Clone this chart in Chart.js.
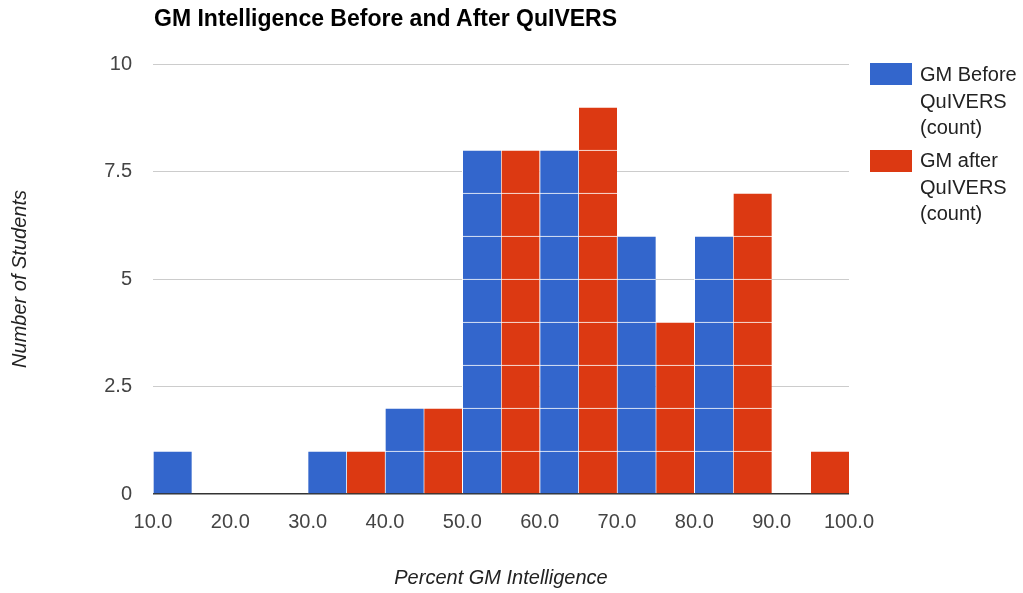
<!DOCTYPE html>
<html>
<head>
<meta charset="utf-8">
<script src="https://cdn.jsdelivr.net/npm/chart.js@4"></script>
<style>
  body { margin: 0; background: #fff; font-family: "Liberation Sans", Arial, sans-serif; }
  #wrap { position: relative; width: 1023px; height: 593px; }
  #title { position: absolute; left: 154px; top: 5px; font-size: 23px; font-weight: bold; color: #000; line-height: 1.2; }
  .lg { position: absolute; left: 870px; }
  .lg .box { position: absolute; left: 0; width: 42px; height: 22px; }
  .lg .txt { position: absolute; left: 50px; width: 160px; font-size: 20px; line-height: 26.5px; color: #222; }
</style>
</head>
<body>
<div id="wrap">
  <canvas id="histChart"></canvas>
  <div id="title">GM Intelligence Before and After QuIVERS</div>
  <div class="lg" style="top:63px"><div class="box" style="background:#3366cc"></div><div class="txt" style="top:-2px">GM Before<br>QuIVERS<br>(count)</div></div>
  <div class="lg" style="top:150px"><div class="box" style="background:#dc3912"></div><div class="txt" style="top:-3px">GM after<br>QuIVERS<br>(count)</div></div>
</div>
<script>
// bins of width 5, from 10 to 100
var binStarts = [10, 15, 20, 25, 30, 35, 40, 45, 50, 55, 60, 65, 70, 75, 80, 85, 90, 95];
var beforeCounts = [1, 0, 0, 0, 1, 0, 2, 0, 8, 0, 8, 0, 6, 0, 6, 0, 0, 0];
var afterCounts  = [0, 0, 0, 0, 0, 1, 0, 2, 0, 8, 0, 9, 0, 4, 0, 7, 0, 1];
var yTicks = [0, 2.5, 5, 7.5, 10];
var xTicks = [10, 20, 30, 40, 50, 60, 70, 80, 90, 100];

var seriesList = [
  { name: "GM Before QuIVERS (count)", counts: beforeCounts, color: "#3366cc" },
  { name: "GM after QuIVERS (count)", counts: afterCounts, color: "#dc3912" }
];

// each student is its own little box, so stack one dataset per level
var datasets = [];
seriesList.forEach(function (s) {
  var top = Math.max.apply(null, s.counts);
  for (var k = 1; k <= top; k++) {
    datasets.push({
      label: s.name,
      data: binStarts.map(function (b, i) {
        return { x: b + 2.5, y: s.counts[i] >= k ? 1 : null };
      }),
      backgroundColor: s.color,
      borderColor: "#ffffff",
      borderWidth: { top: 1, left: 1, right: 0, bottom: 0 },
      borderSkipped: false,
      barPercentage: 1,
      categoryPercentage: 1
    });
  }
});

new Chart("histChart", {
  type: "bar",
  data: { datasets: datasets },
  options: {
    responsive: true,
    maintainAspectRatio: false,
    animation: false,
    layout: { padding: { top: 64, right: 174, left: 0, bottom: 0 } },
    plugins: { legend: { display: false }, tooltip: { enabled: false } },
    scales: {
      x: {
        type: "linear",
        stacked: true,
        offset: false,
        min: 10,
        max: 100,
        afterBuildTicks: function (scale) {
          scale.ticks = xTicks.map(function (v) { return { value: v }; });
        },
        afterFit: function (scale) { scale.height = 99; },
        grid: { display: false, drawTicks: false },
        border: { display: false },
        ticks: {
          padding: 16,
          color: "#444",
          font: { family: "Liberation Sans", size: 20 },
          maxRotation: 0,
          autoSkip: false,
          callback: function (v) { return Number(v).toFixed(1); }
        },
        title: {
          display: true,
          text: "Percent GM Intelligence",
          color: "#222",
          font: { family: "Liberation Sans", size: 20, style: "italic" },
          padding: { top: 0, bottom: 3 }
        }
      },
      y: {
        stacked: true,
        min: 0,
        max: 10,
        afterBuildTicks: function (scale) {
          scale.ticks = yTicks.map(function (v) { return { value: v }; });
        },
        afterFit: function (scale) { scale.width = 153; },
        grid: {
          drawTicks: false,
          color: function (ctx) { return ctx.tick && ctx.tick.value === 0 ? "#333" : "#cccccc"; },
          lineWidth: function (ctx) { return ctx.tick && ctx.tick.value === 0 ? 1.5 : 1; }
        },
        border: { display: false },
        ticks: {
          padding: 21,
          color: "#444",
          font: { family: "Liberation Sans", size: 20 },
          callback: function (v) { return String(v); }
        },
        title: {
          display: true,
          text: "Number of Students",
          color: "#222",
          font: { family: "Liberation Sans", size: 20, style: "italic" },
          padding: { top: 8, bottom: 0 }
        }
      }
    }
  }
});
</script>
</body>
</html>
